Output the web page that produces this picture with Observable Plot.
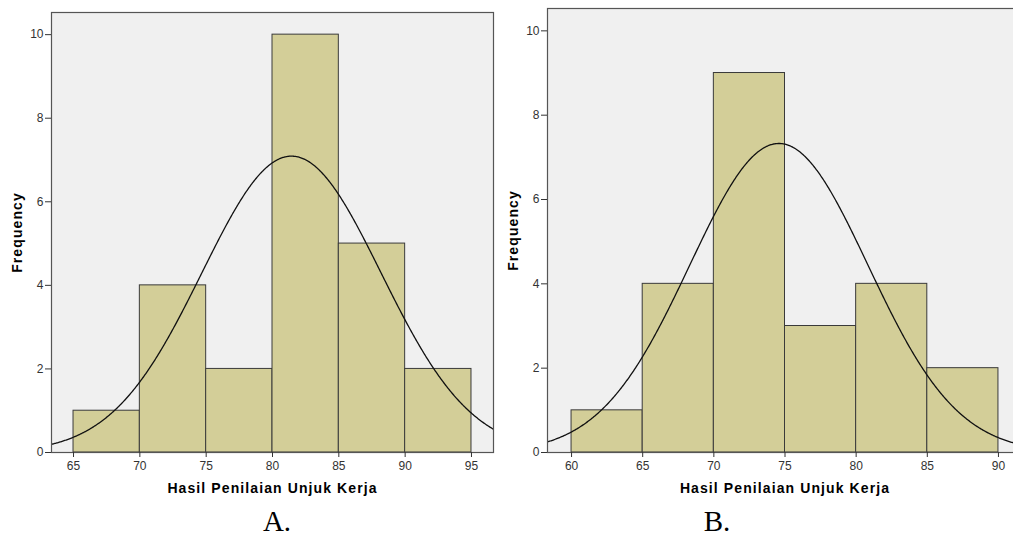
<!DOCTYPE html>
<html><head><meta charset="utf-8">
<script src="https://cdn.jsdelivr.net/npm/d3@7"></script>
<script src="https://cdn.jsdelivr.net/npm/@observablehq/plot@0.6"></script>
<style>
body{margin:0;background:#fff;width:1013px;height:535px;overflow:hidden;position:relative;font-family:"Liberation Sans",Arial,sans-serif}
.panel{position:absolute;top:0}
.panel svg{max-width:none}
.cap{position:absolute;top:507px;font-family:"Liberation Serif","Times New Roman",serif;font-size:29px;line-height:1;transform:translateX(-50%);color:#000}
</style></head><body>
<div id="a" class="panel" style="left:0;width:500px"></div>
<div id="b" class="panel" style="left:496px;width:530px"></div>
<div class="cap" style="left:277px">A.</div>
<div class="cap" style="left:717px">B.</div>
<script>
// Panel A data
const binStartsA = [65, 70, 75, 80, 85, 90];
const countsA = [1, 4, 2, 10, 5, 2];
const xTicksA = [65, 70, 75, 80, 85, 90, 95];
const meanA = 81.43, sdA = 6.75, nA = 24;
// Panel B data
const binStartsB = [60, 65, 70, 75, 80, 85];
const countsB = [1, 4, 9, 3, 4, 2];
const xTicksB = [60, 65, 70, 75, 80, 85, 90];
const meanB = 74.57, sdB = 6.26, nB = 23;
const binWidth = 5;
const yTicks = [0, 2, 4, 6, 8, 10];
const xLabel = "Hasil Penilaian Unjuk Kerja";
const yLabel = "Frequency";

function normalCurve(mean, sd, n, lo, hi) {
  const k = n * binWidth / (sd * Math.sqrt(2 * Math.PI));
  return d3.range(lo, hi + 0.05, 0.05).map(x => ({x, y: k * Math.exp(-((x - mean) ** 2) / (2 * sd * sd))}));
}

function chart({starts, counts, ticks, mean, sd, n, xDomain, width, marginLeft, marginRight, marginTop}) {
  const bins = starts.map((s, i) => ({x1: s, x2: s + binWidth, count: counts[i]}));
  const curve = normalCurve(mean, sd, n, xDomain[0], xDomain[1]);
  return Plot.plot({
    width, height: 505,
    marginLeft, marginRight, marginTop, marginBottom: 53,
    style: {fontFamily: '"Liberation Sans", Arial, sans-serif', fontSize: "12px", color: "#333", background: "white", maxWidth: "none"},
    x: {domain: xDomain},
    y: {domain: [0, 10.53]},
    marks: [
      Plot.frame({fill: "#f0f0f0", stroke: null}),
      Plot.rectY(bins, {x1: "x1", x2: "x2", y: "count", fill: "#d3ce98", stroke: "#3a3a3a", strokeWidth: 1, inset: 0}),
      Plot.line(curve, {x: "x", y: "y", stroke: "#111", strokeWidth: 1.3, clip: true}),
      Plot.frame({stroke: "#555", strokeWidth: 1.2}),
      Plot.axisY({ticks: yTicks, tickSize: 6, tickPadding: 2, label: null, stroke: "#333"}),
      Plot.axisX({ticks, tickSize: 5, tickPadding: 4, label: null, tickFormat: d => d, stroke: "#333"}),
      Plot.text([yLabel], {frameAnchor: "left", textAnchor: "middle", dx: -33.5, rotate: -90, fontWeight: "bold", fontSize: 14, fill: "#000", style: "letter-spacing:1px"}),
      Plot.text([xLabel], {frameAnchor: "bottom", textAnchor: "middle", dy: 40, fontWeight: "bold", fontSize: 14, fill: "#000"})
    ]
  });
}

function styleLabels(svg) {
  // letter spacing for the bold axis titles (SPSS look)
  svg.querySelectorAll("text").forEach(t => {
    if (t.textContent === xLabel || t.textContent === yLabel) t.style.letterSpacing = "1.1px";
  });
  return svg;
}

document.getElementById("a").append(styleLabels(chart({
  starts: binStartsA, counts: countsA, ticks: xTicksA, mean: meanA, sd: sdA, n: nA,
  xDomain: [63.34, 96.66], width: 500, marginLeft: 51, marginRight: 7, marginTop: 12
})));
document.getElementById("b").append(styleLabels(chart({
  starts: binStartsB, counts: countsB, ticks: xTicksB, mean: meanB, sd: sdB, n: nB,
  xDomain: [58.31, 91.69], width: 530, marginLeft: 51, marginRight: 4, marginTop: 8
})));
</script>
</body></html>
